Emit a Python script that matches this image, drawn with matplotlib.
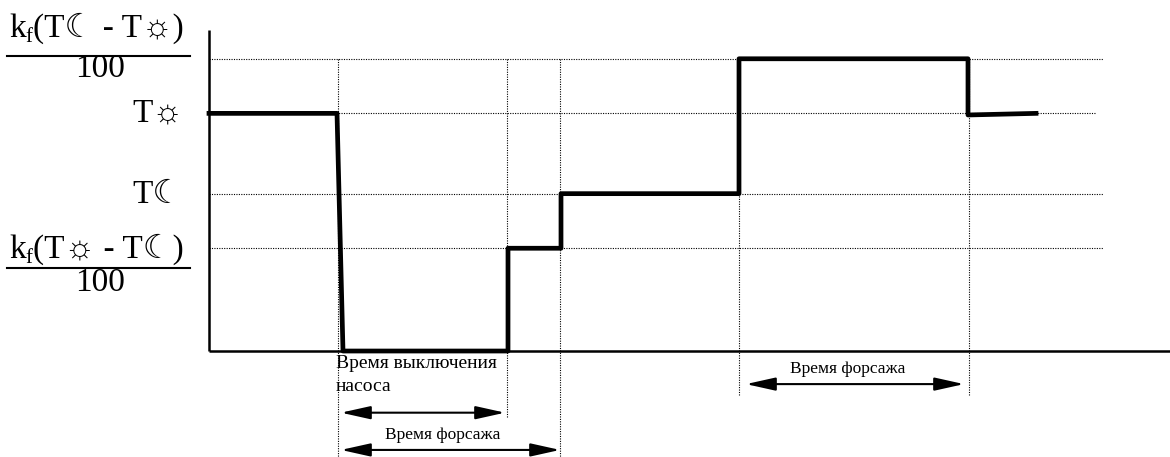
import matplotlib
matplotlib.use("Agg")
import matplotlib.pyplot as plt
from matplotlib.patches import FancyArrowPatch

plt.rcParams['font.family'] = ['Liberation Serif', 'DejaVu Sans']

# ---- data -------------------------------------------------------------
MOON = "\u263E"
SUN = "\u263C"

# level values (arbitrary units)
level_kf_high = 91
level_T_sun = 74
level_T_moon = 49
level_kf_low = 32

level_values = [level_kf_high, level_T_sun, level_T_moon, level_kf_low]
level_grid_end = [89.4, 88.7, 89.4, 89.4]

# step curve (time, value)
curve_t = [0, 12.8, 13.4, 29.9, 29.9, 35.2, 35.2, 53.0, 53.0, 75.9, 75.9, 82.7]
curve_v = [74, 74, 0, 0, 32, 32, 49, 49, 91, 91, 73.5, 74]

# vertical marker lines (time, lower end value)
marker_t = [12.9, 29.8, 35.1, 53.0, 76.0]
marker_bottom = [-33, -20.6, -33, -13.7, -13.7]

# duration arrows: (start, end, level)
arrows = [(13.2, 29.6, -19.2), (13.2, 35.1, -30.8), (53.7, 75.5, -10.3)]

label_pump_off = "Время выключения\nнасоса"
label_boost = "Время форсажа"

# ---- figure -----------------------------------------------------------
fig = plt.figure(figsize=(11.70, 4.57), dpi=100)
ax = fig.add_axes([0, 0, 1, 1])
ax.set_xlim(-20.9, 96.1)
ax.set_ylim(-33.0, 109.3)
ax.axis('off')

grid_kw = dict(color='black', lw=0.8, ls=(0, (1, 1.2)), zorder=1)
for v, xe in zip(level_values, level_grid_end):
    ax.plot([0, xe], [v, v], **grid_kw)
for t, b in zip(marker_t, marker_bottom):
    ax.plot([t, t], [level_kf_high, b], **grid_kw)

# axes lines
ax.plot([0, 0], [0, 100], color='black', lw=1.8, zorder=3, solid_capstyle='butt')
ax.plot([0, 96.1], [0, 0], color='black', lw=1.8, zorder=3, solid_capstyle='butt')

# step curve
ax.plot(curve_t, curve_v, color='black', lw=3.4, zorder=4)

# arrows
for a, b, v in arrows:
    ax.add_patch(FancyArrowPatch((a, v), (b, v),
                                 arrowstyle='<|-|>,head_length=0.9,head_width=0.2',
                                 mutation_scale=20, color='black', lw=1.5,
                                 shrinkA=0, shrinkB=0, zorder=4))

ax.text(12.7, -1.2, label_pump_off, ha='left', va='top', fontsize=14,
        linespacing=1.45)
ax.text(23.4, -26.2, label_boost, ha='center', va='center', fontsize=12.5)
ax.text(63.9, -5.6, label_boost, ha='center', va='center', fontsize=12.5)

# left-hand level labels
big = 24
sub = 15


def kf_label(x_left, y_base, inner):
    t1 = ax.text(x_left, y_base, "k", ha='left', va='baseline', fontsize=big)
    t2 = ax.annotate("f", xy=(1, y_base), xycoords=(t1, 'data'),
                     xytext=(0, -4), textcoords='offset points',
                     ha='left', va='baseline', fontsize=sub)
    ax.annotate(inner, xy=(1, y_base), xycoords=(t2, 'data'),
                ha='left', va='baseline', fontsize=big)


kf_label(-20.0, 97.9, "(T" + MOON + " - T" + SUN + ")")
ax.plot([-20.2, -1.9], [92.0, 92.0], color='black', lw=1.5)
ax.text(-10.9, 88.0, "100", ha='center', va='center', fontsize=big)
ax.text(-2.6, 74.0, "T" + SUN, ha='right', va='center', fontsize=big)
ax.text(-2.6, 48.6, "T" + MOON, ha='right', va='center', fontsize=big)
kf_label(-20.0, 29.0, "(T" + SUN + " - T" + MOON + ")")
ax.plot([-20.2, -1.9], [25.9, 25.9], color='black', lw=1.5)
ax.text(-10.9, 21.2, "100", ha='center', va='center', fontsize=big)

fig.savefig("out.png", dpi=100)
